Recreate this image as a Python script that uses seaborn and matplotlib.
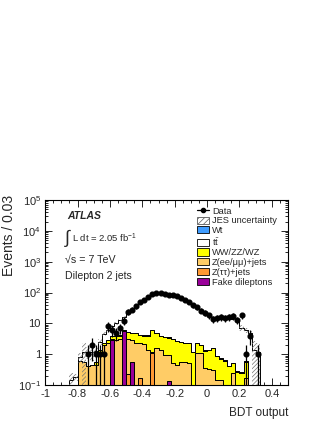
import numpy as np
import pandas as pd
import matplotlib
matplotlib.use("Agg")
import matplotlib.pyplot as plt
import seaborn as sns
from matplotlib.patches import Patch
from matplotlib.lines import Line2D
from matplotlib.ticker import FixedLocator, FixedFormatter, MultipleLocator, LogLocator, NullFormatter

# bins of the BDT output
edges = np.linspace(-1.0, 0.5, 61)
centers = 0.5 * (edges[:-1] + edges[1:])
width = edges[1] - edges[0]

# expected events per bin, per sample
fake = [0, 0, 0, 0, 0, 0, 0, 0, 0, 0,
        0, 0, 0, 0, 0, 0, 2.9, 0, 0, 5.5,
        0, 0.55, 0, 0, 0, 0, 0, 0, 0, 0,
        0.13, 0, 0, 0, 0, 0, 0, 0, 0, 0,
        0, 0, 0, 0, 0, 0, 0, 0, 0, 0,
        0, 0, 0, 0, 0, 0, 0, 0, 0, 0]
ztautau = [0, 0, 0, 0, 0, 0, 0, 0, 0, 0,
           0, 0, 0, 0, 0, 0, 0, 0, 0, 0,
           0.23, 0, 0, 0.17, 0, 0, 1.1, 0, 0, 0,
           0, 0, 0, 0, 0, 0, 0, 0, 0, 0,
           0, 0, 0, 0, 0, 0, 0, 0, 0, 0,
           0, 0, 0, 0, 0, 0, 0, 0, 0, 0]
zll = [0, 0, 0, 0, 0, 0, 0, 0, 0.6, 0.55,
       0.4, 0.45, 0.45, 1.2, 2.0, 2.3, 0.1, 2.8, 3.0, 0,
       2.8, 2.4, 2.3, 2.1, 2.2, 1.4, 0.1, 1.6, 1.4, 0.95,
       0.8, 0.5, 0.45, 0.55, 0.55, 0.5, 0, 1.1, 1.1, 0.35,
       0.33, 0.3, 0.14, 0.15, 0, 0, 0.25, 0, 0, 0.17,
       0, 0, 0, 0, 0, 0, 0, 0, 0, 0]
diboson = [0, 0, 0, 0, 0, 0, 0, 0, 0, 0,
           0, 0, 0.1, 0.2, 0.3, 0.6, 0.8, 1.0, 1.0, 0.5,
           2.2, 2.0, 2.4, 2.0, 1.8, 2.6, 4.8, 3.3, 2.4, 2.7,
           2.5, 2.5, 2.15, 1.95, 1.75, 1.8, 1.15, 1.2, 0.9, 0.95,
           1.0, 1.3, 0.7, 0.55, 0.6, 0.4, 0.25, 0.27, 0.25, 0.4,
           0, 0, 0, 0, 0, 0, 0, 0, 0, 0]
wt = [0, 0, 0, 0, 0, 0, 0, 0, 0, 0,
      0, 0, 0, 0, 0.02, 0.02, 0.03, 0.03, 0.04, 0.04,
      0.05, 0.05, 0.05, 0.05, 0.05, 0.05, 0.05, 0.05, 0.05, 0.05,
      0.05, 0.05, 0.05, 0.05, 0.05, 0.05, 0.05, 0.05, 0.05, 0.05,
      0.04, 0.04, 0.03, 0.03, 0.03, 0.02, 0.02, 0.02, 0.02, 0.01,
      0, 0, 0, 0, 0, 0, 0, 0, 0, 0]
ttbar = [0, 0, 0, 0, 0, 0, 0.15, 0.18, 0.2, 0.65,
         0.8, 0.75, 0.75, 1.1, 2.2, 3.1, 4.2, 6.2, 9.0, 10.0,
         15.8, 22, 30, 40.7, 52, 64, 74, 87, 94, 92,
         86.5, 81, 73.4, 64.5, 55.7, 45.7, 38.8, 30.7, 25, 20.7,
         16.7, 14.4, 14.2, 14.3, 13.4, 13.6, 13.5, 12.7, 6.75, 5.4,
         4.7, 1.4, 1.2, 0, 0, 0, 0, 0, 0, 0]
# absolute JES uncertainty on the total
jes = [0, 0, 0, 0, 0, 0, 0.1, 0.05, 0.3, 1.1,
       0.5, 0.6, 0.4, 0.5, 0.6, 0.7, 0.8, 0.9, 1.0, 1.2,
       1.5, 2, 2.5, 3, 3.5, 4, 4.5, 5, 5, 5,
       5, 5, 4.5, 4, 3.5, 3, 2.5, 2.2, 2, 1.8,
       1.5, 1.4, 1.3, 1.3, 1.3, 1.3, 1.4, 1.5, 1.5, 1.2,
       1.0, 1.3, 1.1, 0, 0, 0, 0, 0, 0, 0]
data = [0, 0, 0, 0, 0, 0, 0, 0, 0, 0,
        1, 2, 1, 1, 1, 8, 6, 5, 7, 12,
        24, 28, 36, 48, 58, 72, 88, 98, 100, 92,
        85, 82, 75, 66, 58, 48, 38, 33, 26, 22,
        18, 14, 15, 16, 15, 16, 17, 13, 18, 1,
        4, 0, 1, 0, 0, 0, 0, 0, 0, 0]

# stack order: first is on top, last at the bottom
labels = ["t$\\bar{\\mathrm{t}}$", "Wt", "WW/ZZ/WZ", "Z(ee/μμ)+jets", "Z(ττ)+jets", "Fake dileptons"]
colors = ["#ffffff", "#3f9cff", "#ffff00", "#ffcc66", "#ff9933", "#990099"]
samples = [ttbar, wt, diboson, zll, ztautau, fake]

sns.set_style("ticks")
plt.rcParams["font.family"] = ["Liberation Sans", "DejaVu Sans"]
plt.rcParams["mathtext.fontset"] = "custom"
plt.rcParams["mathtext.rm"] = "Liberation Sans"
plt.rcParams["mathtext.it"] = "Liberation Sans:italic"
plt.rcParams["mathtext.bf"] = "Liberation Sans:bold"
plt.rcParams["hatch.linewidth"] = 0.5
plt.rcParams["hatch.color"] = "0.45"

rows = []
for lab, vals in zip(labels, samples):
    rows.append(pd.DataFrame({"x": centers, "w": vals, "sample": lab}))
df = pd.concat(rows, ignore_index=True)

fig = plt.figure(figsize=(3.27, 4.23), dpi=100)
ax = fig.add_axes([0.138, 0.09, 0.743, 0.437])

sns.histplot(data=df, x="x", weights="w", hue="sample", hue_order=labels,
             multiple="stack", binwidth=width, binrange=(-1.0, 0.5), element="step",
             palette=dict(zip(labels, colors)), edgecolor="black",
             linewidth=0.7, alpha=1, legend=False, ax=ax)

total = np.sum(np.array(samples), axis=0)
jes = np.array(jes)
up = total + jes
down = np.clip(total - jes, 1e-3, None)
m = jes > 0
ax.bar(centers[m], (up - down)[m], bottom=down[m], width=width,
       fill=False, hatch="////////", edgecolor="0.45", linewidth=0)

data = np.array(data, dtype=float)
d = data > 0
ax.errorbar(centers[d], data[d], yerr=np.sqrt(data[d]), fmt="o", color="black",
            ms=3.4, elinewidth=0.9, capsize=0, zorder=5)

ax.set_yscale("log")
ax.set_xlim(-1.0, 0.5)
ax.set_ylim(0.1, 1e5)

ax.yaxis.set_major_locator(FixedLocator([0.1, 1, 10, 1e2, 1e3, 1e4, 1e5]))
ax.yaxis.set_major_formatter(FixedFormatter(["$10^{-1}$", "1", "10", "$10^{2}$",
                                             "$10^{3}$", "$10^{4}$", "$10^{5}$"]))
ax.yaxis.set_minor_locator(LogLocator(base=10, subs=np.arange(2, 10)))
ax.yaxis.set_minor_formatter(NullFormatter())
ax.set_xticks(np.arange(-1.0, 0.41, 0.2))
ax.set_xticklabels(["-1", "-0.8", "-0.6", "-0.4", "-0.2", "0", "0.2", "0.4"])
ax.xaxis.set_minor_locator(MultipleLocator(0.05))

ax.tick_params(which="both", direction="in", top=True, right=True, labelsize=8, width=0.7)
ax.tick_params(which="major", length=5)
ax.tick_params(which="minor", length=2.5)
ax.tick_params(axis="x", which="major", pad=3)
ax.tick_params(axis="y", which="major", pad=3)
for s in ax.spines.values():
    s.set_linewidth(0.8)
    s.set_color("black")

ax.set_xlabel("BDT output", fontsize=8.5, loc="right", labelpad=6)
ax.set_ylabel("Events / 0.03", fontsize=10, loc="top")
ax.yaxis.set_label_coords(-0.118, 1.03)

ax.text(0.089, 0.915, "ATLAS", transform=ax.transAxes, fontsize=7.5,
        fontweight="bold", style="italic", va="center")
ax.text(0.082, 0.79, "∫", transform=ax.transAxes, fontsize=13, va="center")
ax.text(0.112, 0.795, "L dt = 2.05 fb$^{-1}$", transform=ax.transAxes, fontsize=6.8, va="center")
ax.text(0.082, 0.676, "√s = 7 TeV", transform=ax.transAxes, fontsize=7.7, va="center")
ax.text(0.082, 0.589, "Dilepton 2 jets", transform=ax.transAxes, fontsize=7.6, va="center")

color_of = dict(zip(labels, colors))
leg_labels = ["Data", "JES uncertainty", "Wt", labels[0], "WW/ZZ/WZ",
              "Z(ee/μμ)+jets", "Z(ττ)+jets", "Fake dileptons"]
leg_handles = [Line2D([0], [0], marker="o", color="black", ms=3, lw=0.9),
               Patch(facecolor="white", edgecolor="0.35", hatch="//////", linewidth=0.6)]
for lab in leg_labels[2:]:
    leg_handles.append(Patch(facecolor=color_of[lab], edgecolor="black", linewidth=0.6))
ax.legend(leg_handles, leg_labels, loc="upper left", bbox_to_anchor=(0.625, 0.965),
          frameon=False, fontsize=6.7, handlelength=1.3, handleheight=0.8,
          handletextpad=0.3, labelspacing=0.08, borderpad=0, borderaxespad=0)

fig.savefig("out.png", dpi=100)
